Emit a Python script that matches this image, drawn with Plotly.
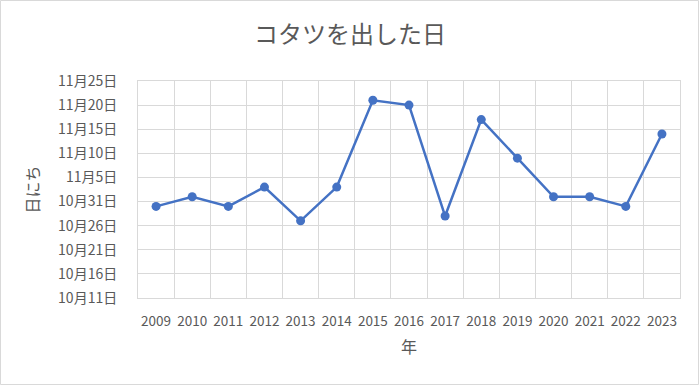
import plotly.graph_objects as go

years = ["2009", "2010", "2011", "2012", "2013", "2014", "2015", "2016",
         "2017", "2018", "2019", "2020", "2021", "2022", "2023"]
# month-day when the kotatsu was set up (dummy year 2000 for a date axis)
days = ["10-30", "11-01", "10-30", "11-03", "10-27", "11-03", "11-21", "11-20",
        "10-28", "11-17", "11-09", "11-01", "11-01", "10-30", "11-14"]
tick_dates = ["10-11", "10-16", "10-21", "10-26", "10-31",
              "11-05", "11-10", "11-15", "11-20", "11-25"]
tick_labels = ["10月11日", "10月16日", "10月21日", "10月26日", "10月31日",
               "11月5日", "11月10日", "11月15日", "11月20日", "11月25日"]

y_vals = ["2000-" + d for d in days]
x_idx = list(range(len(years)))

FONT = "Noto Sans CJK JP"
GREY = "#595959"
GRID = "#D9D9D9"

fig = go.Figure(go.Scatter(
    x=x_idx, y=y_vals, mode="lines+markers",
    line=dict(color="#4472C4", width=2.5),
    marker=dict(color="#4472C4", size=9),
    hoverinfo="skip",
))

W, H = 700, 386
ml, mr, mt, mb = 138, 20, 81, 88

fig.update_layout(
    width=W, height=H,
    margin=dict(l=ml, r=mr, t=mt, b=mb),
    paper_bgcolor="white", plot_bgcolor="white",
    showlegend=False,
    font=dict(family=FONT, color=GREY, size=13),
    title=dict(text="コタツを出した日", x=0.5, xanchor="center",
               y=1 - 35 / H, yanchor="middle",
               font=dict(family=FONT, size=24, color=GREY)),
    xaxis=dict(
        range=[-0.5, len(years) - 0.5],
        tickmode="array", tickvals=x_idx, ticktext=years,
        showgrid=False, zeroline=False,
        ticks="", ticklen=0,
        ticklabelstandoff=11,
        tickfont=dict(family=FONT, size=13.5, color=GREY),
        minor=dict(tick0=-0.5, dtick=1, showgrid=True, gridcolor=GRID, gridwidth=1),
        showline=True, linecolor=GRID, mirror=True,
        title=dict(text="年", standoff=12, font=dict(family=FONT, size=16, color=GREY)),
    ),
    yaxis=dict(
        type="date",
        range=["2000-10-11", "2000-11-25"],
        tickmode="array",
        tickvals=["2000-" + d for d in tick_dates],
        ticktext=tick_labels,
        showgrid=True, gridcolor=GRID, gridwidth=1,
        zeroline=False, ticks="", ticklen=0,
        ticklabelstandoff=17,
        tickfont=dict(family=FONT, size=14, color=GREY),
        showline=True, linecolor=GRID, mirror=True,
        title=dict(text="日にち", standoff=14, font=dict(family=FONT, size=16, color=GREY)),
    ),
)

pw, ph = W - ml - mr, H - mt - mb
fig.add_shape(type="rect", xref="paper", yref="paper",
              x0=-(ml - 0.5) / pw, x1=1 + (mr - 1.5) / pw,
              y0=-(mb - 1.5) / ph, y1=1 + (mt - 0.5) / ph,
              line=dict(color="#D9D9D9", width=1), layer="below")

fig.write_html("out.html")
